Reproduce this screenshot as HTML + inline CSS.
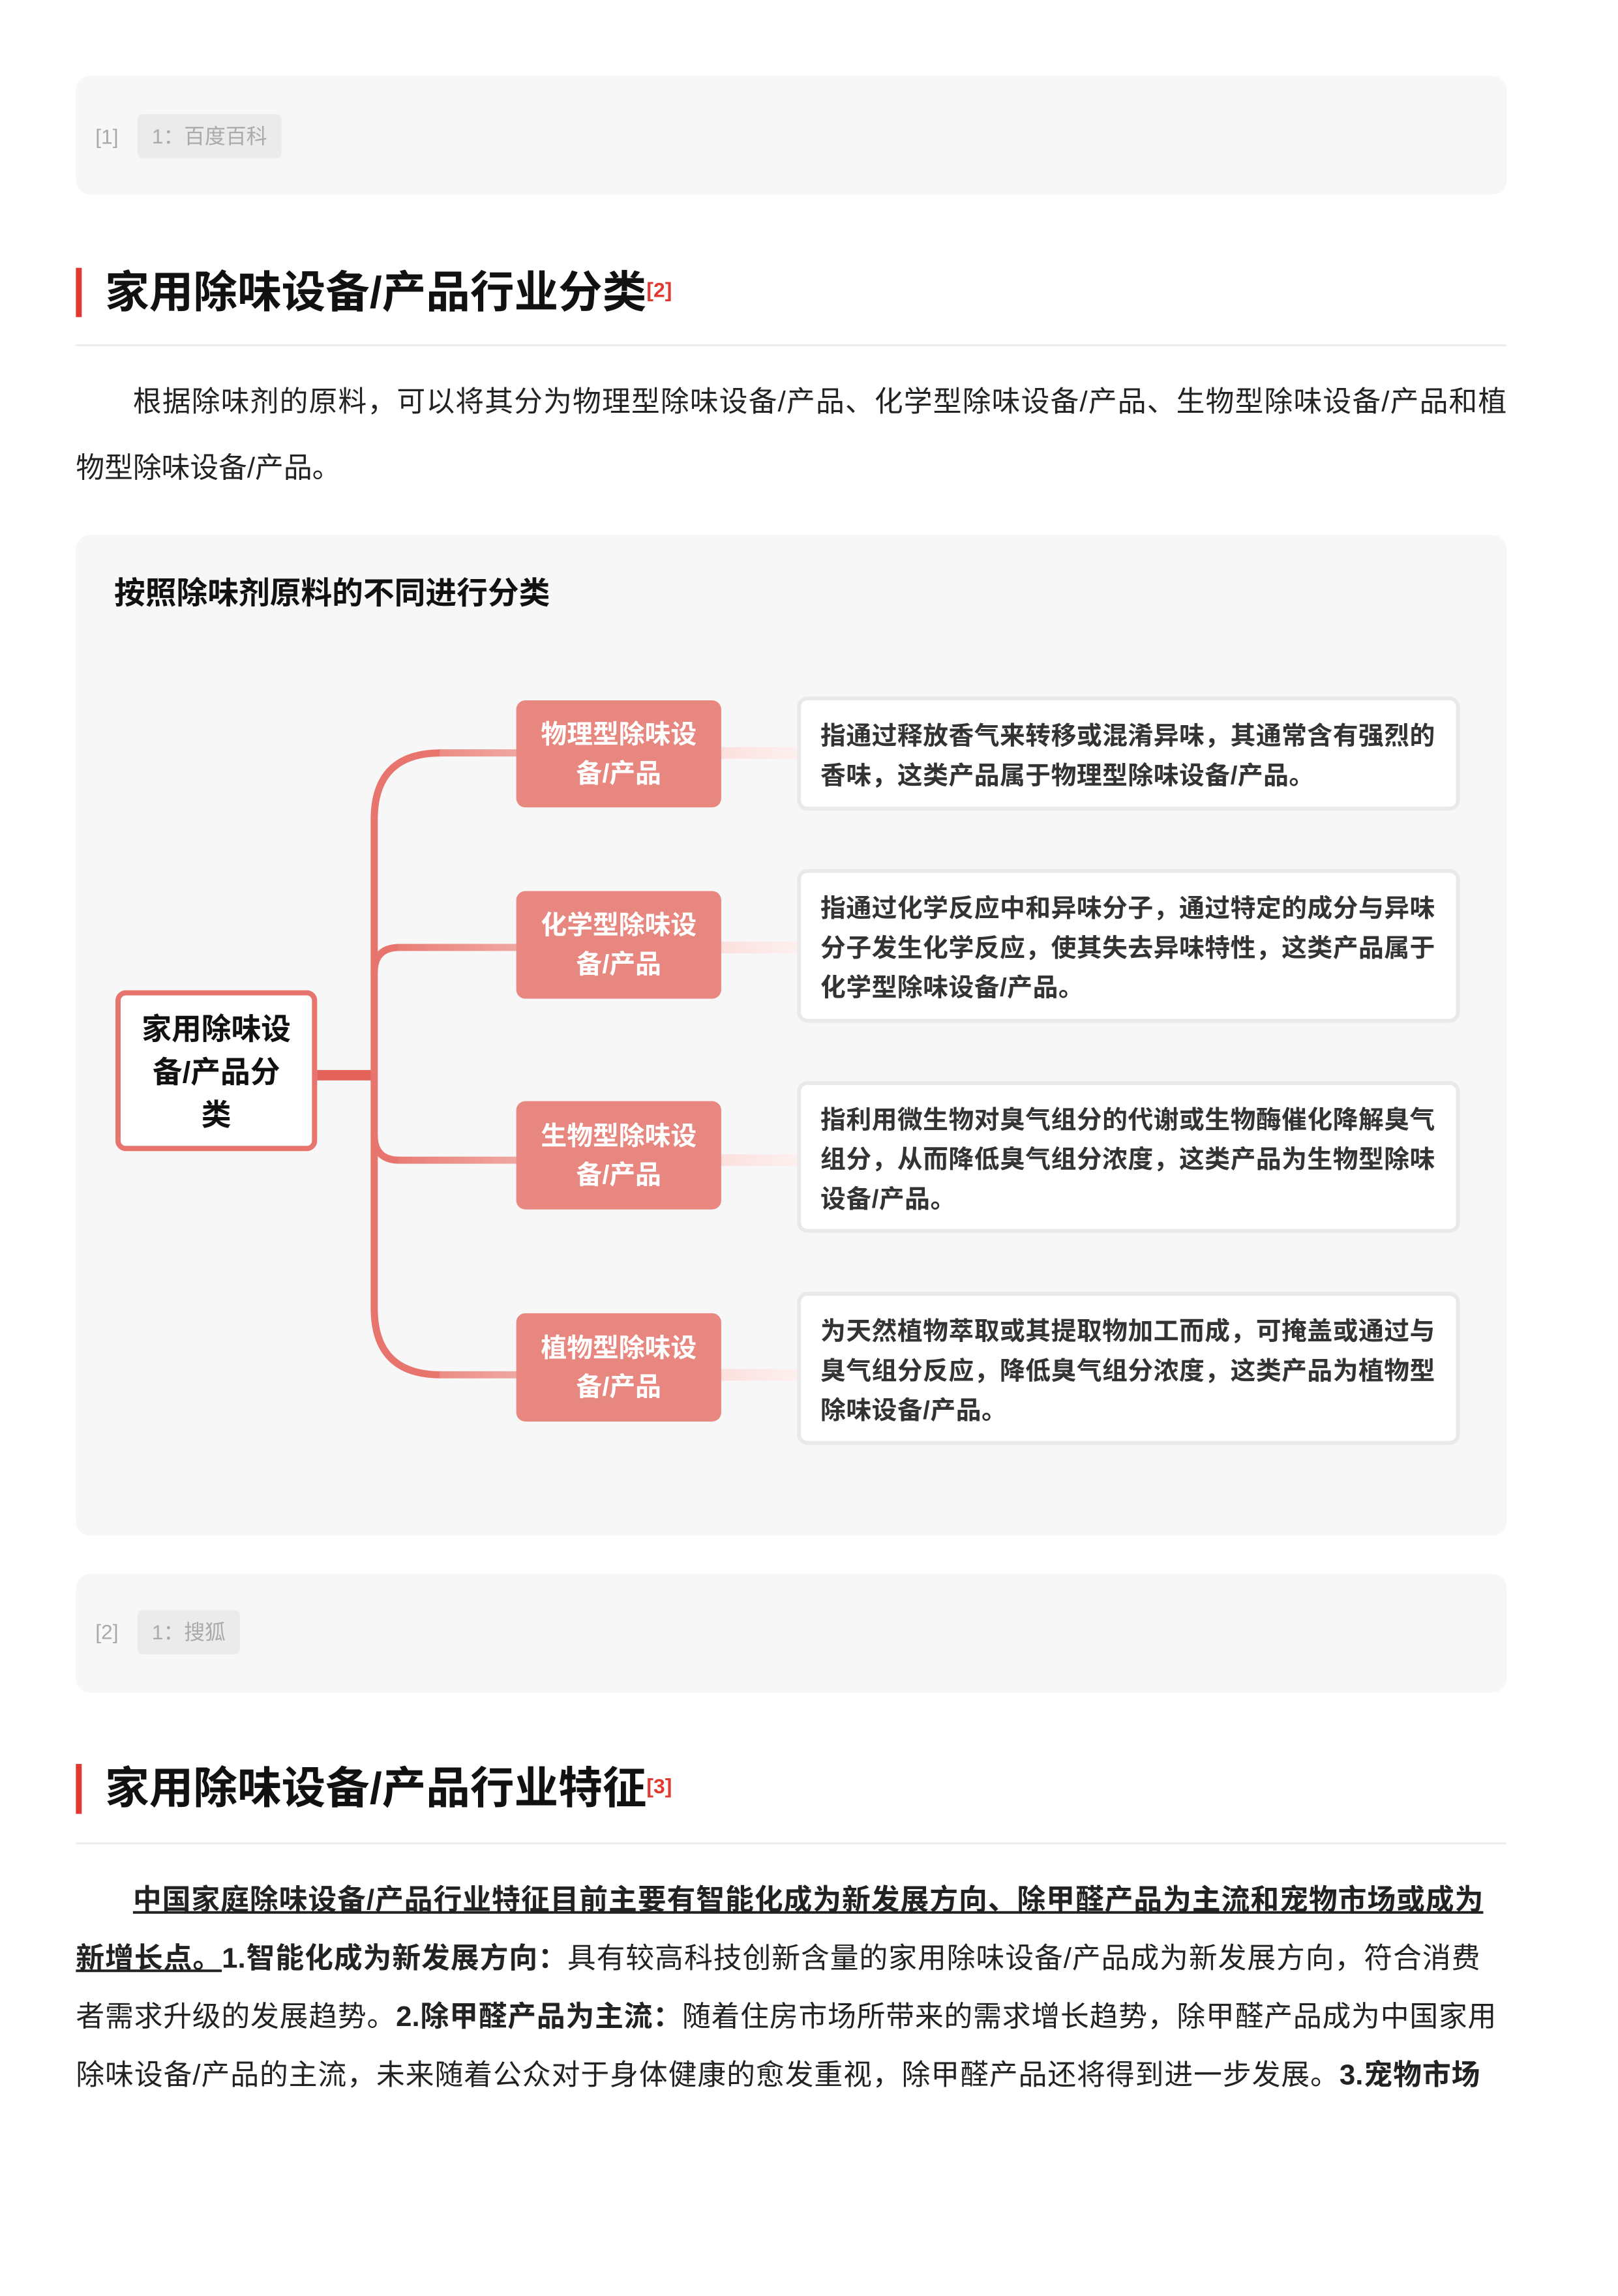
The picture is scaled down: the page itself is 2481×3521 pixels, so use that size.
<!DOCTYPE html>
<html><head><meta charset="utf-8"><style>
*{margin:0;padding:0;box-sizing:border-box}
body{width:2481px;height:3508px;background:#fff;position:relative;font-family:"Liberation Sans","Noto Sans CJK SC",sans-serif;overflow:hidden}
#w{position:absolute;left:0;top:0;width:2500px;height:3540px;transform:scale(0.9945);transform-origin:0 0}
.abs{position:absolute}
.ref{position:absolute;left:117px;width:2206px;background:#f7f7f7;border-radius:22px}
.ref .n{position:absolute;left:30px;color:#aaa;font-size:32px}
.ref .t{position:absolute;left:95px;background:#ebebeb;color:#aaa;font-size:32px;border-radius:8px;padding:0 22px;height:68px;line-height:68px}
.bar{position:absolute;left:117px;width:9px;background:#e03a30}
.h{position:absolute;left:162px;font-size:68px;font-weight:bold;color:#111;white-space:nowrap;line-height:80px}
.h sup{color:#e03a30;font-size:32px;font-weight:bold;vertical-align:top;position:relative;top:-4px}
.hr{position:absolute;left:117px;width:2206px;height:3px;background:#ececec}
.line{position:absolute;left:117px;width:2206px;font-size:44px;color:#222;white-space:nowrap;text-align:justify;text-align-last:justify;line-height:60px}
.cat{position:absolute;left:796px;width:316px;background:#e8877f;border-radius:14px;color:#fff;font-weight:bold;font-size:40px;text-align:center;display:flex;align-items:center;justify-content:center;line-height:60px}
.desc{position:absolute;left:1229px;width:1022px;background:#fff;border:6px solid #e9e9e9;border-radius:16px;padding:8px 20px 0 30px;font-size:39px;letter-spacing:0.5px;font-weight:bold;color:#333;line-height:61px;display:flex;align-items:center;white-space:nowrap}
</style></head><body><div id="w">

<div class="ref" style="top:117px;height:183px">
 <div class="n" style="top:94px;transform:translateY(-50%)">[1]</div>
 <div class="t" style="top:59px">1：百度百科</div>
</div>

<div class="bar" style="top:413px;height:76px"></div>
<div class="h" style="top:411px">家用除味设备/产品行业分类<sup>[2]</sup></div>
<div class="hr" style="top:531px"></div>

<div class="line" style="top:590px;padding-left:88px">根据除味剂的原料，可以将其分为物理型除味设备/产品、化学型除味设备/产品、生物型除味设备/产品和植</div>
<div class="line" style="top:692px;text-align-last:left">物型除味设备/产品。</div>

<div class="ref" style="top:825px;height:1543px"></div>
<div class="abs" style="left:176px;top:886px;font-size:48px;font-weight:bold;color:#111;line-height:60px">按照除味剂原料的不同进行分类</div>

<svg class="abs" style="left:0;top:0" width="2481" height="3508">
 <defs>
  <linearGradient id="g" gradientUnits="userSpaceOnUse" x1="577" y1="0" x2="800" y2="0"><stop offset="0" stop-color="#e8756d"/><stop offset="1" stop-color="#f0a8a2"/></linearGradient>
  <linearGradient id="p" gradientUnits="userSpaceOnUse" x1="1112" y1="0" x2="1232" y2="0"><stop offset="0" stop-color="#fbe0de"/><stop offset="1" stop-color="#fdf0ef"/></linearGradient>
 </defs>
 <rect x="489" y="1650" width="90" height="16" fill="#e3625a"/>
 <g fill="none" stroke-width="11">
  <path d="M577,1658 V1264 Q577,1161 680,1161" stroke="#e8756d"/>
  <path d="M577,1658 V2017 Q577,2120 680,2120" stroke="#e8756d"/>
  <path d="M577,1500 Q577,1461 616,1461" stroke="#e8756d"/>
  <path d="M577,1750 Q577,1789 616,1789" stroke="#e8756d"/>
  <path d="M678,1161 H800" stroke="url(#g)"/>
  <path d="M614,1461 H800" stroke="url(#g)"/>
  <path d="M614,1789 H800" stroke="url(#g)"/>
  <path d="M678,2120 H800" stroke="url(#g)"/>
 </g>
 <g fill="url(#p)">
  <rect x="1112" y="1152" width="120" height="18"/>
  <rect x="1112" y="1452" width="120" height="18"/>
  <rect x="1112" y="1780" width="120" height="18"/>
  <rect x="1112" y="2111" width="120" height="18"/>
 </g>
</svg>

<div class="abs" style="left:178px;top:1527px;width:311px;height:248px;border:8px solid #e8756d;border-radius:16px;background:#fff;display:flex;align-items:center;justify-content:center;text-align:center;font-size:46px;font-weight:bold;color:#111;line-height:66px;padding-top:4px">家用除味设<br>备/产品分<br>类</div>

<div class="cat" style="top:1080px;height:165px">物理型除味设<br>备/产品</div>
<div class="cat" style="top:1374px;height:166px">化学型除味设<br>备/产品</div>
<div class="cat" style="top:1698px;height:167px">生物型除味设<br>备/产品</div>
<div class="cat" style="top:2025px;height:167px">植物型除味设<br>备/产品</div>

<div class="desc" style="top:1074px;height:176px"><div>指通过释放香气来转移或混淆异味，其通常含有强烈的<br>香味，这类产品属于物理型除味设备/产品。</div></div>
<div class="desc" style="top:1340px;height:237px"><div>指通过化学反应中和异味分子，通过特定的成分与异味<br>分子发生化学反应，使其失去异味特性，这类产品属于<br>化学型除味设备/产品。</div></div>
<div class="desc" style="top:1667px;height:234px"><div>指利用微生物对臭气组分的代谢或生物酶催化降解臭气<br>组分，从而降低臭气组分浓度，这类产品为生物型除味<br>设备/产品。</div></div>
<div class="desc" style="top:1992px;height:236px"><div>为天然植物萃取或其提取物加工而成，可掩盖或通过与<br>臭气组分反应，降低臭气组分浓度，这类产品为植物型<br>除味设备/产品。</div></div>

<div class="ref" style="top:2427px;height:183px">
 <div class="n" style="top:90px;transform:translateY(-50%)">[2]</div>
 <div class="t" style="top:56px">1：搜狐</div>
</div>

<div class="bar" style="top:2720px;height:77px"></div>
<div class="h" style="top:2718px">家用除味设备/产品行业特征<sup>[3]</sup></div>
<div class="hr" style="top:2841px"></div>

<div class="line" style="top:2900px;padding-left:88px;width:2170px"><b><u>中国家庭除味设备/产品行业特征目前主要有智能化成为新发展方向、除甲醛产品为主流和宠物市场或成为</u></b></div>
<div class="line" style="top:2990px;width:2165px"><b><u>新增长点。</u>1.智能化成为新发展方向：</b>具有较高科技创新含量的家用除味设备/产品成为新发展方向，符合消费</div>
<div class="line" style="top:3080px;width:2190px">者需求升级的发展趋势。<b>2.除甲醛产品为主流：</b>随着住房市场所带来的需求增长趋势，除甲醛产品成为中国家用</div>
<div class="line" style="top:3170px;width:2165px">除味设备/产品的主流，未来随着公众对于身体健康的愈发重视，除甲醛产品还将得到进一步发展。<b>3.宠物市场</b></div>

</div></body></html>
